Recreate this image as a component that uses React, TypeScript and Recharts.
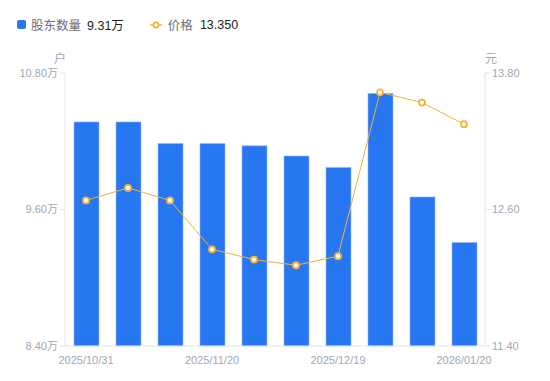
import { ComposedChart, Bar, Line, XAxis, YAxis } from "recharts";

const dates = [
  "2025/10/31",
  "2025/11/07",
  "2025/11/14",
  "2025/11/20",
  "2025/11/28",
  "2025/12/10",
  "2025/12/19",
  "2025/12/31",
  "2026/01/09",
  "2026/01/20",
];
const holders = [10.37, 10.37, 10.18, 10.18, 10.16, 10.07, 9.97, 10.62, 9.71, 9.31];
const prices = [12.68, 12.79, 12.68, 12.25, 12.16, 12.11, 12.19, 13.63, 13.54, 13.35];
const holderTicks = [8.4, 9.6, 10.8];
const priceTicks = [11.4, 12.6, 13.8];

const data = dates.map((d, i) => ({ date: d, holders: holders[i], price: prices[i] }));

const font = "'Liberation Sans', 'Noto Sans CJK SC', sans-serif";
const tickStyle = { fontSize: 11, fill: "#a3a6b4", fontFamily: font };
const axisColor = "#e3e4e8";
const orange = "#f8b035";

export default function App() {
  return (
    <div style={{ position: "absolute", left: 0, top: 0, width: 550, height: 381, fontFamily: font }}>
      {/* legend */}
      <div style={{ position: "absolute", left: 17, top: 15, display: "flex", alignItems: "center", fontSize: 12.5 }}>
        <span style={{ width: 9, height: 9, background: "#2777f3", borderRadius: 2, display: "inline-block" }} />
        <span style={{ color: "#6b6e78", marginLeft: 5 }}>股东数量</span>
        <span style={{ color: "#222", marginLeft: 6 }}>9.31万</span>
        <svg width={12} height={8} style={{ marginLeft: 26 }}>
          <line x1={0} y1={4} x2={12} y2={4} stroke={orange} strokeWidth={1.5} />
          <circle cx={6} cy={4} r={2.6} fill="#fff" stroke={orange} strokeWidth={1.6} />
        </svg>
        <span style={{ color: "#6b6e78", marginLeft: 6 }}>价格</span>
        <span style={{ color: "#222", marginLeft: 7 }}>13.350</span>
      </div>
      <div style={{ position: "absolute", left: 54, top: 49, fontSize: 12, color: "#a3a6b4" }}>户</div>
      <div style={{ position: "absolute", left: 485, top: 49, fontSize: 12, color: "#a3a6b4" }}>元</div>

      <ComposedChart
        width={550}
        height={381}
        data={data}
        margin={{ top: 73, right: 0, bottom: 0, left: 0 }}
      >
        <XAxis
          dataKey="date"
          interval={2}
          tickLine={false}
          axisLine={{ stroke: axisColor }}
          tick={tickStyle}
          height={35}
          tickMargin={4}
        />
        <YAxis
          yAxisId="left"
          domain={[8.4, 10.8]}
          ticks={holderTicks}
          width={65}
          tickSize={5}
          tickLine={{ stroke: axisColor }}
          axisLine={{ stroke: axisColor }}
          tick={tickStyle}
          tickFormatter={(v: number) => `${v.toFixed(2)}万`}
        />
        <YAxis
          yAxisId="right"
          orientation="right"
          domain={[11.4, 13.8]}
          ticks={priceTicks}
          width={65}
          tickSize={5}
          tickLine={{ stroke: axisColor }}
          axisLine={{ stroke: axisColor }}
          tick={tickStyle}
          tickFormatter={(v: number) => v.toFixed(2)}
        />
        <Bar
          yAxisId="left"
          dataKey="holders"
          fill="#2777f3"
          stroke="#8db8f8"
          strokeWidth={0.6}
          barSize={25}
          isAnimationActive={false}
        />
        <Line
          yAxisId="right"
          type="linear"
          dataKey="price"
          stroke={orange}
          strokeWidth={1}
          dot={{ r: 3, fill: "#fff", stroke: orange, strokeWidth: 1.8 }}
          isAnimationActive={false}
        />
      </ComposedChart>
    </div>
  );
}
